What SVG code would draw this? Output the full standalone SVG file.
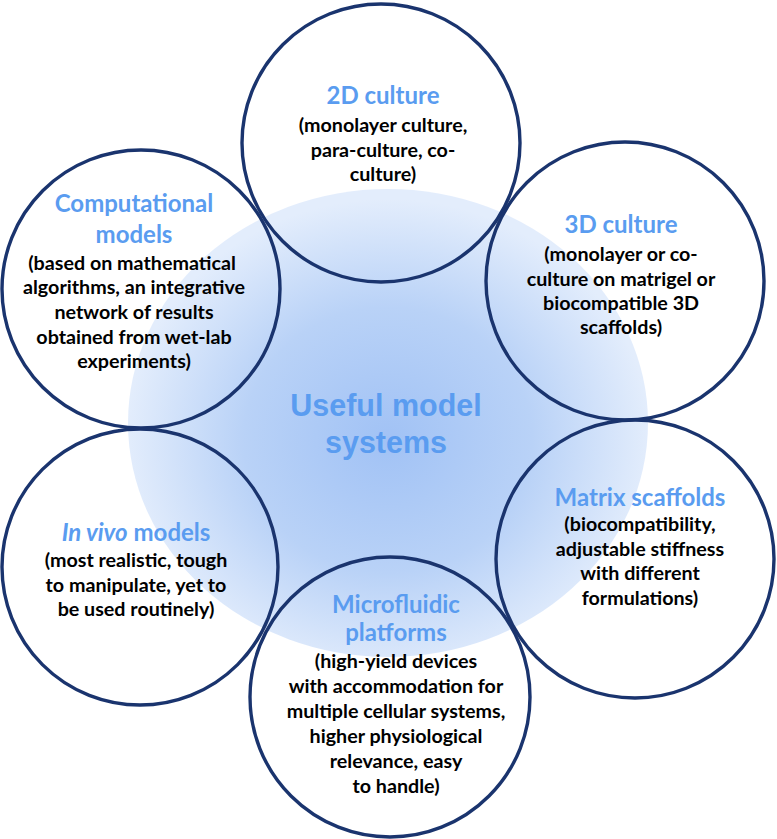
<svg xmlns="http://www.w3.org/2000/svg" width="777" height="839" viewBox="0 0 777 839">
<defs>
<radialGradient id="bg" cx="388" cy="440" r="262" gradientUnits="userSpaceOnUse" gradientTransform="translate(388 440) scale(1 0.92) translate(-388 -440)">
<stop offset="0" stop-color="#a1c2f5"/>
<stop offset="0.55" stop-color="#b9d2f7"/>
<stop offset="1" stop-color="#e3edfc"/>
</radialGradient>
<style>
.ring{fill:none;stroke:#1a346e;stroke-width:3.4}
.t{font-family:Lato,"Open Sans","Liberation Sans",sans-serif;font-weight:bold;font-size:24px;fill:#5a9cf0;text-anchor:middle}
.b{font-family:Lato,"Open Sans","Liberation Sans",sans-serif;font-weight:bold;font-size:19.7px;fill:#000;text-anchor:middle}
.c{font-family:"Liberation Sans",Arial,sans-serif;font-weight:bold;font-size:30.5px;fill:#5a9cf0;text-anchor:middle}
</style>
</defs>
<rect width="777" height="839" fill="#fff"/>
<ellipse cx="388" cy="423" rx="260" ry="234" fill="url(#bg)"/>
<g id="center">
<text class="c" x="386" y="416">Useful model</text>
<text class="c" x="386" y="453">systems</text>
</g>
<g id="n2d">
<circle class="ring" cx="381" cy="143" r="139"/>
<text class="t" x="383" y="104">2D culture</text>
<text class="b" x="383" y="132">(monolayer culture,</text>
<text class="b" x="383" y="157">para-culture, co-</text>
<text class="b" x="383" y="181">culture)</text>
</g>
<g id="computational">
<circle class="ring" cx="141" cy="289" r="139"/>
<text class="t" x="134" y="212">Computational</text>
<text class="t" x="134" y="243">models</text>
<text class="b" x="132" y="270">(based on mathematical</text>
<text class="b" x="134" y="294">algorithms, an integrative</text>
<text class="b" x="134" y="319">network of results</text>
<text class="b" x="134" y="344">obtained from wet-lab</text>
<text class="b" x="134" y="368">experiments)</text>
</g>
<g id="n3d">
<circle class="ring" cx="625" cy="281" r="139"/>
<text class="t" x="621" y="233">3D culture</text>
<text class="b" x="621" y="261">(monolayer or co-</text>
<text class="b" x="621" y="286">culture on matrigel or</text>
<text class="b" x="621" y="310">biocompatible 3D</text>
<text class="b" x="621" y="334">scaffolds)</text>
</g>
<g id="invivo">
<circle class="ring" cx="140" cy="567" r="138"/>
<text class="t" x="136" y="541"><tspan font-style="italic">In vivo</tspan> models</text>
<text class="b" x="136" y="567">(most realistic, tough</text>
<text class="b" x="136" y="592">to manipulate, yet to</text>
<text class="b" x="136" y="616">be used routinely)</text>
</g>
<g id="matrix">
<circle class="ring" cx="635" cy="559" r="139"/>
<text class="t" x="640" y="506">Matrix scaffolds</text>
<text class="b" x="640" y="531">(biocompatibility,</text>
<text class="b" x="640" y="556">adjustable stiffness</text>
<text class="b" x="640" y="580">with different</text>
<text class="b" x="640" y="605">formulations)</text>
</g>
<g id="microfluidic">
<circle class="ring" cx="390" cy="697" r="140"/>
<text class="t" x="396" y="613">Microfluidic</text>
<text class="t" x="396" y="641">platforms</text>
<text class="b" x="396" y="668">(high-yield devices</text>
<text class="b" x="396" y="693">with accommodation for</text>
<text class="b" x="396" y="718">multiple cellular systems,</text>
<text class="b" x="396" y="743">higher physiological</text>
<text class="b" x="396" y="768">relevance, easy</text>
<text class="b" x="396" y="793">to handle)</text>
</g>
<g id="connectors"></g>
</svg>
